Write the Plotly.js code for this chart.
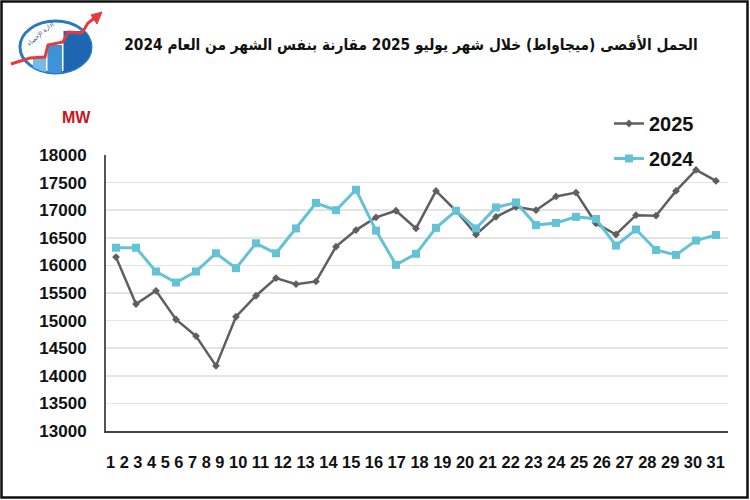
<!DOCTYPE html>
<html>
<head>
<meta charset="utf-8">
<script src="https://cdn.plot.ly/plotly-3.0.1.min.js"></script>
<style>body{margin:0;padding:0;background:#fff}#chart{width:750px;height:500px}</style>
</head>
<body>
<div id="chart"></div>
<script>
const days = [1,2,3,4,5,6,7,8,9,10,11,12,13,14,15,16,17,18,19,20,21,22,23,24,25,26,27,28,29,30,31];
const load2025 = [16150,15300,15540,15020,14720,14180,15070,15450,15770,15660,15710,16340,16640,16870,16990,16670,17350,16990,16560,16880,17060,17000,17250,17320,16760,16560,16910,16900,17350,17730,17530];
const load2024 = [16320,16320,15890,15690,15890,16220,15950,16400,16220,16670,17130,17000,17370,16630,16010,16210,16680,16990,16670,17050,17140,16730,16770,16880,16840,16360,16650,16280,16190,16450,16550];
const yTicks = [13000,13500,14000,14500,15000,15500,16000,16500,17000,17500,18000];
const seriesNames = ['2025','2024'];
const titleText = 'الحمل الأقصى (ميجاواط) خلال شهر يوليو 2025 مقارنة بنفس الشهر من العام 2024';
const unitText = 'MW';
const logoText = 'إدارة الإحصاء';

const W = 750, H = 500;
const M = {l:106, r:22, t:155, b:69};
const PW = W - M.l - M.r, PH = H - M.t - M.b;
function px(x){ return (x - M.l) / PW; }
function py(y){ return (H - M.b - y) / PH; }
function pathFrom(pts, close){
  return pts.map((p,i)=>(i?'L':'M')+px(p[0]).toFixed(5)+','+py(p[1]).toFixed(5)).join(' ') + (close?' Z':'');
}

// logo geometry (decoration)
const cx = 55.5, cy = 47, rx = 35.5, ry = 26;
function eTop(x){ const d=(x-cx)/rx; return cy - ry*Math.sqrt(Math.max(0,1-d*d)); }
function eBot(x){ const d=(x-cx)/rx; return cy + ry*Math.sqrt(Math.max(0,1-d*d)); }
function barPath(x0,x1,top){
  const upper=[], lower=[];
  for(let x=x0;x<=x1;x+=0.5){ upper.push([x, Math.max(top,eTop(x))]); lower.push([x, eBot(x)]); }
  return pathFrom(upper.concat(lower.reverse()), true);
}
const shapes = [
  {type:'rect', xref:'paper', yref:'paper', x0:px(1.5), x1:px(747.5), y0:py(1.5), y1:py(497.5), line:{color:'#111', width:2.5}, fillcolor:'rgba(0,0,0,0)', layer:'above'},
  {type:'circle', xref:'paper', yref:'paper', x0:px(cx-rx), x1:px(cx+rx), y0:py(cy-ry), y1:py(cy+ry), line:{color:'#2a78c0', width:3}, fillcolor:'#ffffff'},
  {type:'path', xref:'paper', yref:'paper', path:barPath(33,46,58), fillcolor:'#74bbe9', line:{width:0}},
  {type:'path', xref:'paper', yref:'paper', path:barPath(47.5,62,45), fillcolor:'#3d92d8', line:{width:0}},
  {type:'path', xref:'paper', yref:'paper', path:barPath(63.5,91,31), fillcolor:'#1e66b2', line:{width:0}},
  {type:'path', xref:'paper', yref:'paper', path:pathFrom([[11,64],[30,58],[45,57],[48,45],[63,42],[68,32],[82,33],[88,23],[96,17]], false), line:{color:'#e63a3f', width:3}, fillcolor:'rgba(0,0,0,0)'},
  {type:'path', xref:'paper', yref:'paper', path:pathFrom([[102,12],[91,15],[97,24]], true), line:{color:'#e63a3f', width:1}, fillcolor:'#e63a3f'}
];

const traces = [
  {x:days, y:load2025, name:seriesNames[0], type:'scatter', mode:'lines+markers', legendgroup:'a',
   line:{color:'#5f5f5f', width:2.5}, marker:{symbol:'diamond', size:6, color:'#5f5f5f'}},
  {x:days, y:load2024, name:seriesNames[1], type:'scatter', mode:'lines+markers', legendgroup:'b',
   line:{color:'#63c2d5', width:3}, marker:{symbol:'square', size:8, color:'#63c2d5'}}
];

const layout = {
  width:W, height:H, margin:M, paper_bgcolor:'#ffffff', plot_bgcolor:'#ffffff',
  showlegend:true,
  title:{text:titleText, x:411/W, y:1-45/H, xref:'container', yref:'container', xanchor:'center', yanchor:'middle',
         font:{family:'DejaVu Sans Condensed, DejaVu Sans', size:15.3, color:'#111', weight:'bold'}},
  xaxis:{range:[0.5,31.6], showticklabels:false, ticks:'', showgrid:false, zeroline:false,
         showline:true, linecolor:'#444', linewidth:1.5, fixedrange:true},
  yaxis:{range:[13000,18000], tickvals:yTicks, ticktext:yTicks.map(String), ticks:'', showgrid:true, gridcolor:'#e4e4e4', gridwidth:1.5,
         zeroline:false, showline:true, linecolor:'#555', linewidth:2, ticklabelstandoff:14,
         tickfont:{family:'Liberation Sans, Arial, sans-serif', size:17, color:'#111', weight:'bold'}},
  legend:{x:px(609), y:py(104), xanchor:'left', yanchor:'top', bgcolor:'rgba(0,0,0,0)', itemwidth:30,
          tracegroupgap:6, font:{family:'Liberation Sans, Arial, sans-serif', size:20, color:'#111', weight:'bold'}},
  shapes:shapes,
  annotations:[
    {text:unitText, xref:'paper', yref:'paper', x:px(76), y:py(117), xanchor:'center', yanchor:'middle', showarrow:false,
     font:{family:'Liberation Sans, Arial, sans-serif', size:16, color:'#c8141e', weight:'bold'}},
    {text:days.join(' '), xref:'paper', yref:'paper', x:px(415), y:py(462), xanchor:'center', yanchor:'middle', showarrow:false,
     font:{family:'Liberation Sans, Arial, sans-serif', size:16.4, color:'#111', weight:'bold'}},
    {text:logoText, xref:'paper', yref:'paper', x:px(40), y:py(34), xanchor:'center', yanchor:'middle', showarrow:false, textangle:-42,
     font:{family:'DejaVu Sans', size:6, color:'#1a4f8a'}}
  ]
};
Plotly.newPlot('chart', traces, layout, {staticPlot:true, displayModeBar:false});
</script>
</body>
</html>
